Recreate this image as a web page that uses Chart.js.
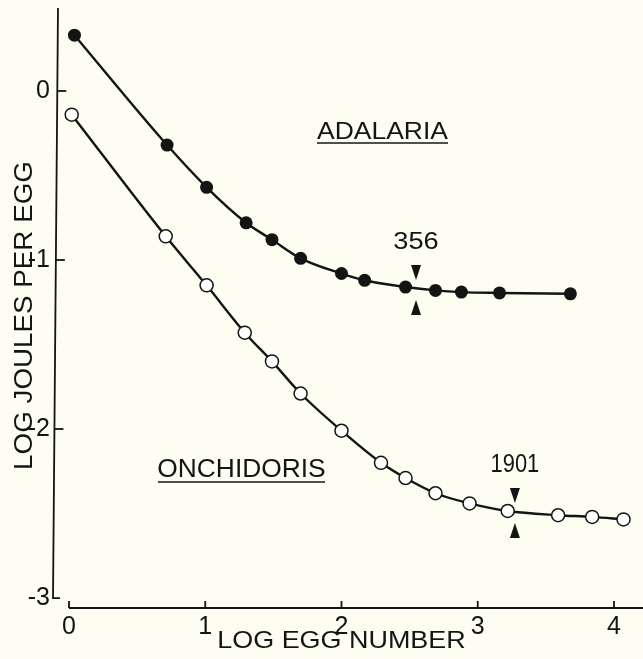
<!DOCTYPE html>
<html>
<head>
<meta charset="utf-8">
<script src="https://cdn.jsdelivr.net/npm/chart.js@4.4.1/dist/chart.umd.min.js"></script>
<style>
  html, body { margin: 0; padding: 0; background: #fdfdf2; }
  canvas { display: block; }
</style>
</head>
<body>
<canvas id="eggChart" width="643" height="659"></canvas>
<script>
// values (log egg number vs log joules per egg)
const adalariaX = [0.04, 0.72, 1.01, 1.30, 1.49, 1.70, 2.00, 2.17, 2.47, 2.69, 2.88, 3.16, 3.68];
const adalariaY = [0.33, -0.32, -0.57, -0.78, -0.88, -0.99, -1.08, -1.12, -1.16, -1.18, -1.19, -1.195, -1.20];
const onchidorisX = [0.02, 0.71, 1.01, 1.29, 1.49, 1.70, 2.00, 2.29, 2.47, 2.69, 2.94, 3.22, 3.59, 3.84, 4.07];
const onchidorisY = [-0.14, -0.86, -1.15, -1.43, -1.60, -1.79, -2.01, -2.20, -2.29, -2.38, -2.44, -2.485, -2.51, -2.52, -2.535];

const xTickValues = [0, 1, 2, 3, 4];
const yTickValues = [0, -1, -2, -3];

const speciesNames = ['ADALARIA', 'ONCHIDORIS'];
const markerLabels = ['356', '1901'];
const markerX = [2.547, 3.273];
const markerY = [-1.178, -2.497];

const INK = '#141414';
const BG = '#fdfdf2';
const FONT = '"Liberation Sans", Arial, sans-serif';

// label placement (data units for x/y, pixel sizes)
const speciesLayout = [
  { x: 2.301, y: -0.284, size: 24, width: 131, under: 4 },
  { x: 1.266, y: -2.284, size: 26, width: 167, under: 5 }
];
const markerLayout = [
  { ty: -0.935, size: 24, width: 45 },
  { ty: -2.255, size: 25, width: 47 }
];

function toPoints(xs, ys) {
  return xs.map((x, i) => ({ x: x, y: ys[i] }));
}

// draws text squeezed/stretched to a given ink width, baseline at (cx, by)
function fitText(ctx, text, cx, by, size, width) {
  ctx.font = size + 'px ' + FONT;
  const m = ctx.measureText(text);
  const ink = m.actualBoundingBoxLeft + m.actualBoundingBoxRight;
  ctx.save();
  ctx.translate(cx, by);
  ctx.scale(width / ink, 1);
  ctx.textAlign = 'center';
  ctx.textBaseline = 'alphabetic';
  ctx.fillText(text, 0, 0);
  ctx.restore();
}

function noPad(s) {
  s.paddingTop = 0;
  s.paddingBottom = 0;
  s.paddingLeft = 0;
  s.paddingRight = 0;
}

const figurePlugin = {
  id: 'figure',
  beforeDraw(chart) {
    const ctx = chart.ctx;
    ctx.save();
    ctx.fillStyle = BG;
    ctx.fillRect(0, 0, chart.width, chart.height);
    ctx.restore();
  },
  beforeDatasetsDraw(chart) {
    const ctx = chart.ctx;
    const xs = chart.scales.x, ys = chart.scales.y;
    ctx.save();
    ctx.strokeStyle = INK;
    ctx.lineWidth = 1.8;
    ctx.lineCap = 'butt';

    // y axis (slightly slanted like the print)
    const top = chart.chartArea.top, foot = ys.getPixelForValue(-3);
    const axX = y => 58 - 5 * (y - top) / (foot - top);
    ctx.beginPath();
    ctx.moveTo(axX(top), top);
    ctx.lineTo(axX(foot), foot);
    ctx.lineTo(axX(foot) + 7, foot);
    ctx.stroke();
    yTickValues.forEach(v => {
      if (v === -3) return;
      const py = ys.getPixelForValue(v);
      ctx.beginPath();
      ctx.moveTo(axX(py), py);
      ctx.lineTo(axX(py) + 9, py);
      ctx.stroke();
    });

    // x axis
    const base = chart.chartArea.bottom;
    ctx.beginPath();
    ctx.moveTo(xs.getPixelForValue(0), base);
    ctx.lineTo(chart.width, base);
    ctx.stroke();
    xTickValues.forEach(v => {
      const px = xs.getPixelForValue(v);
      ctx.beginPath();
      ctx.moveTo(px, base);
      ctx.lineTo(px, base - 7);
      ctx.stroke();
    });
    ctx.restore();
  },
  afterDraw(chart) {
    const ctx = chart.ctx;
    const xs = chart.scales.x, ys = chart.scales.y;
    ctx.save();
    ctx.fillStyle = INK;
    ctx.strokeStyle = INK;

    // axis titles
    fitText(ctx, 'LOG EGG NUMBER', 341.5, 648, 24, 247);
    ctx.save();
    ctx.translate(32, 315.5);
    ctx.rotate(-Math.PI / 2);
    fitText(ctx, 'LOG JOULES PER EGG', 0, 0, 26.5, 305);
    ctx.restore();

    // species names, underlined
    speciesNames.forEach((name, i) => {
      const L = speciesLayout[i];
      const cx = xs.getPixelForValue(L.x), by = ys.getPixelForValue(L.y);
      fitText(ctx, name, cx, by, L.size, L.width);
      ctx.lineWidth = 1.6;
      ctx.beginPath();
      ctx.moveTo(cx - L.width / 2, by + L.under);
      ctx.lineTo(cx + L.width / 2, by + L.under);
      ctx.stroke();
    });

    // egg-number markers with arrowheads
    markerLabels.forEach((lab, i) => {
      const L = markerLayout[i];
      const ax = xs.getPixelForValue(markerX[i]);
      const ly = ys.getPixelForValue(markerY[i]);
      fitText(ctx, lab, ax, ys.getPixelForValue(L.ty), L.size, L.width);
      const gap = 10, h = 15, hw = 5;
      ctx.beginPath();
      ctx.moveTo(ax, ly - gap);
      ctx.lineTo(ax - hw, ly - gap - h);
      ctx.lineTo(ax + hw, ly - gap - h);
      ctx.closePath();
      ctx.fill();
      ctx.beginPath();
      ctx.moveTo(ax, ly + gap);
      ctx.lineTo(ax - hw, ly + gap + h);
      ctx.lineTo(ax + hw, ly + gap + h);
      ctx.closePath();
      ctx.fill();
    });
    ctx.restore();
  }
};

new Chart(document.getElementById('eggChart'), {
  type: 'scatter',
  data: {
    datasets: [
      {
        label: speciesNames[0],
        data: toPoints(adalariaX, adalariaY),
        showLine: true,
        cubicInterpolationMode: 'monotone',
        borderColor: INK,
        borderWidth: 2.4,
        pointRadius: 6.5,
        pointBackgroundColor: INK,
        pointBorderColor: INK,
        pointBorderWidth: 0
      },
      {
        label: speciesNames[1],
        data: toPoints(onchidorisX, onchidorisY),
        showLine: true,
        cubicInterpolationMode: 'monotone',
        borderColor: INK,
        borderWidth: 2.4,
        pointRadius: 6.5,
        pointBackgroundColor: '#ffffff',
        pointBorderColor: INK,
        pointBorderWidth: 1.5
      }
    ]
  },
  options: {
    responsive: false,
    animation: false,
    devicePixelRatio: 1,
    layout: { autoPadding: false, padding: { top: 8, right: 0, left: 0, bottom: 0 } },
    plugins: {
      legend: { display: false },
      tooltip: { enabled: false }
    },
    scales: {
      x: {
        type: 'linear',
        min: -0.088,
        max: 4.213,
        grid: { display: false, drawTicks: false },
        border: { display: false },
        afterBuildTicks: s => { s.ticks = xTickValues.map(v => ({ value: v })); },
        afterFit: s => { s.height = 51; noPad(s); },
        ticks: { color: INK, padding: 4, font: { family: FONT, size: 25 } }
      },
      y: {
        type: 'linear',
        min: -3.059,
        max: 0.491,
        grid: { display: false, drawTicks: false },
        border: { display: false },
        afterBuildTicks: s => { s.ticks = yTickValues.map(v => ({ value: v })); },
        afterFit: s => { s.width = 57; noPad(s); },
        ticks: { color: INK, padding: 7, font: { family: FONT, size: 25 } }
      }
    }
  },
  plugins: [figurePlugin]
});
</script>
</body>
</html>
